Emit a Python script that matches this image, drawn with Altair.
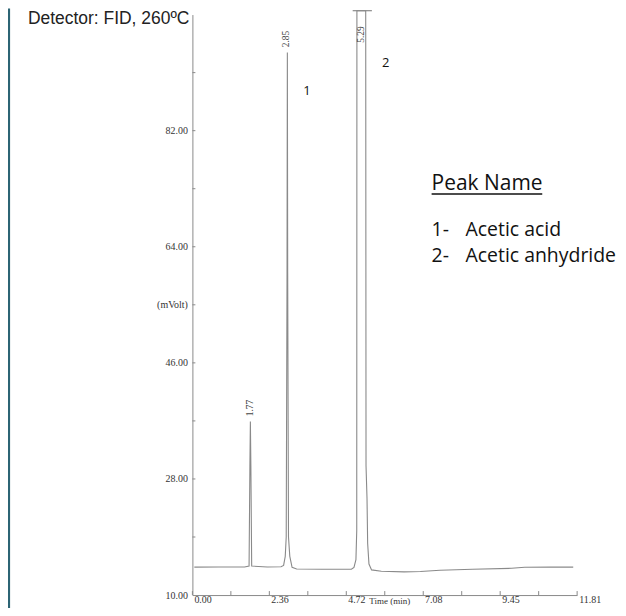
import altair as alt
import pandas as pd

# chromatogram trace (time in min, signal in mVolt)
times = [0.06, 0.8, 1.6, 1.74, 1.765, 1.78, 1.795, 1.82, 2.3, 2.72, 2.80, 2.85, 2.88, 2.905,
         2.915, 2.925, 2.95, 2.99, 3.06, 3.2, 4.0, 4.88, 4.96, 5.02, 5.045, 5.05, 5.32, 5.33,
         5.36, 5.38, 5.42, 5.5, 5.8, 6.5, 7.0, 7.6, 8.6, 9.8, 10.2, 11.0, 11.69]
signal = [14.33, 14.35, 14.35, 14.5, 30.0, 36.9, 30.0, 14.5, 14.35, 14.4, 14.6, 16.0, 19.0, 60.0,
          94.1, 60.0, 19.0, 16.0, 14.3, 14.05, 14.0, 14.0, 14.3, 15.5, 20.0, 100.6, 100.6, 30.0,
          25.0, 18.0, 14.8, 13.9, 13.7, 13.6, 13.65, 13.85, 14.0, 14.15, 14.3, 14.33, 14.33]

# over-range cap above the saturated peak
cap_start = [4.92]
cap_end = [5.51]
cap_level = [100.6]

# retention-time labels
rt_text = ["1.77", "2.85", "5.29"]
rt_time = [1.76, 2.87, 5.17]
rt_level = [39.0, 96.2, 96.9]

# peak numbers
pk_text = ["1", "2"]
pk_time = [3.52, 5.935]
pk_level = [88.2, 92.5]

# axes
x_minor = [0, 1.181, 2.362, 3.543, 4.724, 5.905, 7.086, 8.267, 9.448, 10.629, 11.81]
x_major = [0, 2.36, 4.72, 7.08, 9.45, 11.81]
x_labels = ["0.00", "2.36", "4.72", "7.08", "9.45", "11.81"]
y_ticks = [19, 28, 37, 46, 55, 64, 73, 82, 91]
y_label_values = [10, 28, 46, 55, 64, 82]

W, H = 386, 582.4
GREY = "#8a8a8a"
SERIF = "Liberation Serif"

xs = alt.Scale(domain=[0, 11.81], nice=False, zero=False)
ys = alt.Scale(domain=[10, 100], nice=False, zero=False)

trace = pd.DataFrame({"t": times, "v": signal})
line = alt.Chart(trace).mark_line(color=GREY, strokeWidth=1.1, clip=False).encode(
    x=alt.X("t:Q", scale=xs, axis=alt.Axis(ticks=False, labels=False, grid=False, title=None,
                                            domainColor=GREY, domainWidth=1)),
    y=alt.Y("v:Q", scale=ys, axis=alt.Axis(values=y_label_values, ticks=False, grid=False, title=None,
                                            domainColor=GREY, domainWidth=1,
                                            labelExpr="datum.value == 55 ? '(mVolt)' : format(datum.value, '.2f')",
                                            labelFont=SERIF, labelFontSize=10, labelColor="#333",
                                            labelPadding=5)),
)

cap = alt.Chart(pd.DataFrame({"a": cap_start, "b": cap_end, "v": cap_level})).mark_rule(
    color=GREY, strokeWidth=1.2).encode(x=alt.X("a:Q", scale=xs), x2="b:Q", y=alt.Y("v:Q", scale=ys))

yt = alt.Chart(pd.DataFrame({"v": y_ticks})).mark_rule(color=GREY, strokeWidth=1).encode(
    y=alt.Y("v:Q", scale=ys), x=alt.value(0), x2=alt.value(3))
xt = alt.Chart(pd.DataFrame({"t": x_minor})).mark_rule(color=GREY, strokeWidth=1).encode(
    x=alt.X("t:Q", scale=xs), y=alt.value(H), y2=alt.value(H - 4))
xl = alt.Chart(pd.DataFrame({"t": x_major, "s": x_labels})).mark_text(
    align="left", baseline="middle", dx=2, font=SERIF, fontSize=10, color="#333").encode(
    x=alt.X("t:Q", scale=xs), y=alt.value(H + 5), text="s:N")

rt = alt.Chart(pd.DataFrame({"t": rt_time, "v": rt_level, "s": rt_text})).mark_text(
    angle=270, align="center", baseline="middle", font=SERIF, fontSize=9.5, color="#444").encode(
    x=alt.X("t:Q", scale=xs), y=alt.Y("v:Q", scale=ys), text="s:N")

pk = alt.Chart(pd.DataFrame({"t": pk_time, "v": pk_level, "s": pk_text})).mark_text(
    align="center", baseline="middle", font="Open Sans", fontSize=13, color="#111").encode(
    x=alt.X("t:Q", scale=xs), y=alt.Y("v:Q", scale=ys), text="s:N")

one = pd.DataFrame({"k": [0]})

def label(txt, x, y, size, font="Open Sans", baseline="alphabetic", align="left", color="#111"):
    return alt.Chart(one).mark_text(text=txt, align=align, baseline=baseline, font=font,
                                    fontSize=size, color=color).encode(x=alt.value(x), y=alt.value(y))

detector = label("Detector: FID, 260ºC", -165, 4.6, 17.5, font="Liberation Sans", baseline="middle", color="#222")
peak_name = label("Peak Name", 240, 175.7, 21)
underline = alt.Chart(one).mark_rule(color="#111", strokeWidth=1.5).encode(
    x=alt.value(240), x2=alt.value(351), y=alt.value(180))
n1 = label("1-", 240, 222.2, 19.5)
a1 = label("Acetic acid", 274, 222.2, 19.5)
n2 = label("2-", 240, 248.2, 19.5)
a2 = label("Acetic anhydride", 274, 248.2, 19.5)
time_title = label("Time (min)", 198, 593.5, 9, font=SERIF, baseline="bottom", align="center", color="#333")
border = alt.Chart(one).mark_rule(color="#2c6474", strokeWidth=2.2).encode(
    x=alt.value(-184), y=alt.value(-6), y2=alt.value(600))

chart = alt.layer(line, cap, yt, xt, xl, rt, pk, detector, peak_name, underline, n1, a1, n2, a2,
                  time_title, border).properties(
    width=W, height=H,
    autosize=alt.AutoSizeParams(type="none"),
    padding={"left": 185, "top": 5.6, "right": 41, "bottom": 12},
    background="white",
).configure_view(stroke=None)

chart.save("out.html", embed_options={"renderer": "svg", "actions": False})
